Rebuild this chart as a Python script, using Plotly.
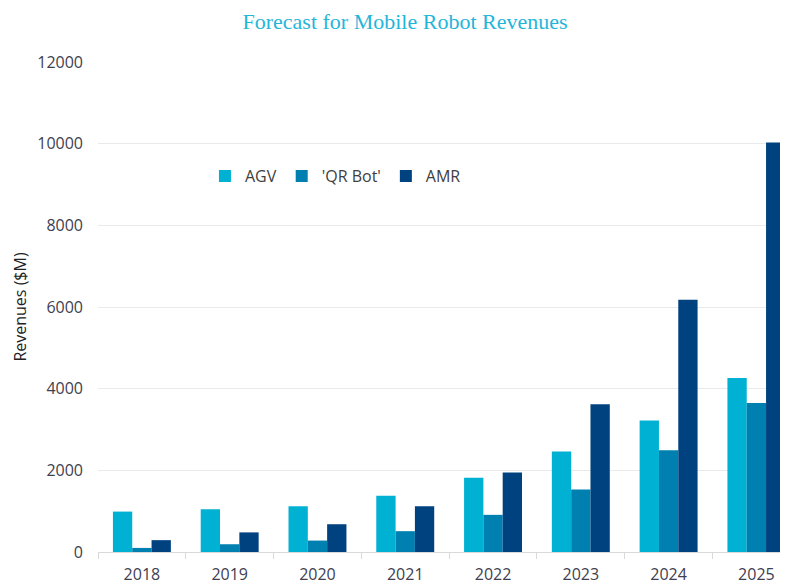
import plotly.graph_objects as go

years = ["2018", "2019", "2020", "2021", "2022", "2023", "2024", "2025"]
agv = [990, 1050, 1120, 1380, 1820, 2460, 3220, 4260]
qr_bot = [100, 190, 280, 510, 910, 1530, 2490, 3650]
amr = [290, 480, 680, 1120, 1950, 3620, 6180, 10030]
y_ticks = [0, 2000, 4000, 6000, 8000, 10000, 12000]

colors = {"AGV": "#00B1D3", "'QR Bot'": "#0080B0", "AMR": "#00427F"}
font_fam = "Open Sans, Noto Sans, sans-serif"

# the page body has an 8px default margin, so the figure is 8px smaller
W, H = 780, 577

fig = go.Figure()
for name, vals in [("AGV", agv), ("'QR Bot'", qr_bot), ("AMR", amr)]:
    fig.add_trace(go.Bar(
        x=years, y=vals, name=name,
        marker=dict(color=colors[name], line=dict(width=0)),
    ))

fig.update_layout(
    width=W, height=H,
    barmode="group", bargap=0.34, bargroupgap=0,
    plot_bgcolor="white", paper_bgcolor="white",
    margin=dict(l=90, r=0, t=54, b=33, autoexpand=False),
    font=dict(family=font_fam, color="#404040", size=15),
    title=dict(
        text="Forecast for Mobile Robot Revenues",
        font=dict(family="Liberation Serif, DejaVu Serif, serif", size=22, color="#1FB6DA"),
        x=397 / W, xanchor="center", xref="container",
        y=1 - 13 / H, yanchor="middle", yref="container",
    ),
    legend=dict(
        orientation="h", x=0.155, xanchor="left", y=0.767, yanchor="middle",
        font=dict(size=16, color="#404040"), bgcolor="rgba(0,0,0,0)",
        itemwidth=30, traceorder="normal",
    ),
    xaxis=dict(
        type="category", range=[-0.5, 7.36],
        showgrid=False, showline=True, linecolor="#D9D9D9", linewidth=1,
        ticks="outside", ticklen=6, tickcolor="#D9D9D9",
        tickson="boundaries", tickfont=dict(size=16, color="#404050"),
        ticklabelstandoff=8, automargin=False,
    ),
    yaxis=dict(
        range=[0, 12000], tickvals=y_ticks, ticktext=[str(v) for v in y_ticks],
        showgrid=True, gridcolor="#E9E9E9", gridwidth=1,
        zeroline=False, showline=False, ticks="",
        tickfont=dict(size=16, color="#404050"), ticklabelstandoff=14,
        automargin=False,
        title=dict(text="Revenues ($M)", font=dict(size=16, color="#222222"), standoff=6),
    ),
)

fig.write_html("out.html")
